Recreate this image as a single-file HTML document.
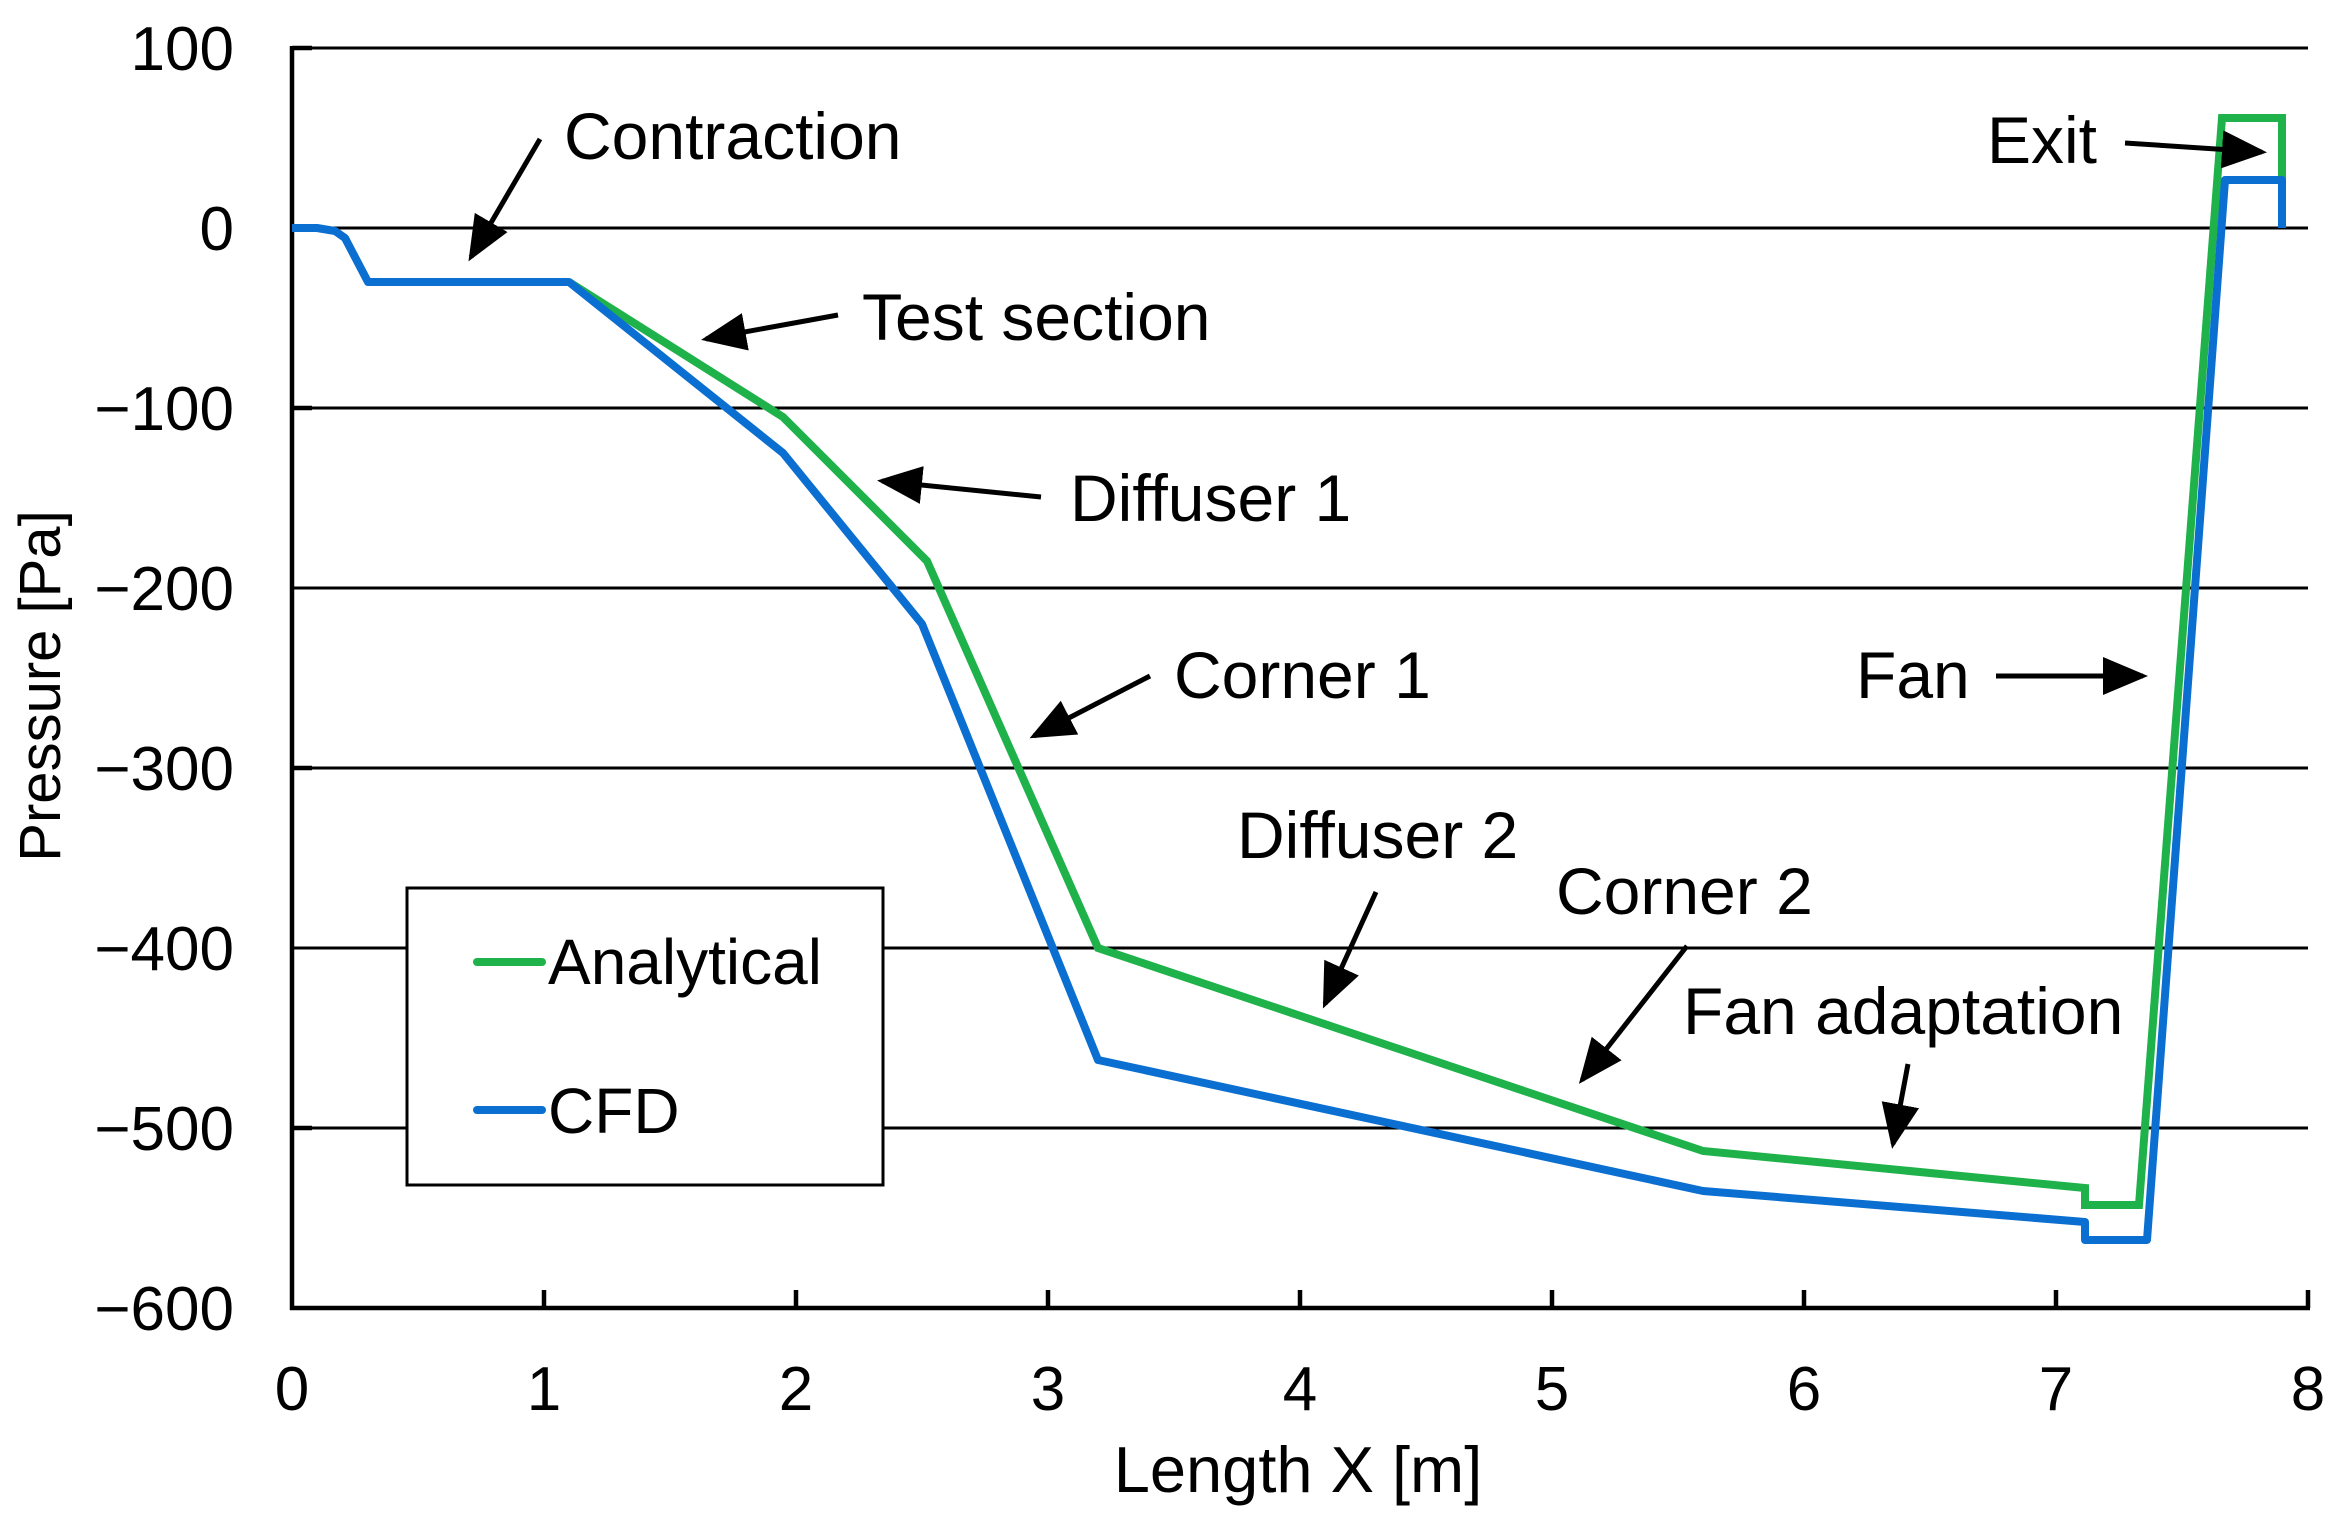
<!DOCTYPE html>
<html><head><meta charset="utf-8"><style>
html,body{margin:0;padding:0;background:#fff}
svg{display:block}
text{font-family:"Liberation Sans",Arial,sans-serif;fill:#000}
</style></head><body>
<svg width="2340" height="1528" viewBox="0 0 2340 1528" xmlns="http://www.w3.org/2000/svg">
<defs>
<marker id="ah" markerWidth="10" markerHeight="10" refX="8" refY="5" orient="auto" markerUnits="strokeWidth">
<path d="M0,1.2 L9,5 L0,8.8 Z" fill="#000"/>
</marker>
</defs>
<g stroke="#000" stroke-width="3">
<line x1="292" y1="48" x2="2308" y2="48"/>
<line x1="292" y1="228" x2="2308" y2="228"/>
<line x1="292" y1="408" x2="2308" y2="408"/>
<line x1="292" y1="588" x2="2308" y2="588"/>
<line x1="292" y1="768" x2="2308" y2="768"/>
<line x1="292" y1="948" x2="2308" y2="948"/>
<line x1="292" y1="1128" x2="2308" y2="1128"/>
</g>
<g stroke="#000" stroke-width="4.5" fill="none">
<line x1="292" y1="46" x2="292" y2="1310"/>
<line x1="290" y1="1308" x2="2310" y2="1308"/>
<line x1="292" y1="48" x2="312" y2="48"/>
<line x1="292" y1="408" x2="312" y2="408"/>
<line x1="292" y1="768" x2="312" y2="768"/>
<line x1="292" y1="1128" x2="312" y2="1128"/>
<line x1="544" y1="1308" x2="544" y2="1290"/>
<line x1="796" y1="1308" x2="796" y2="1290"/>
<line x1="1048" y1="1308" x2="1048" y2="1290"/>
<line x1="1300" y1="1308" x2="1300" y2="1290"/>
<line x1="1552" y1="1308" x2="1552" y2="1290"/>
<line x1="1804" y1="1308" x2="1804" y2="1290"/>
<line x1="2056" y1="1308" x2="2056" y2="1290"/>
<line x1="2308" y1="1308" x2="2308" y2="1290"/>
</g>
<g font-size="62" text-anchor="end">
<text x="234" y="70">100</text>
<text x="234" y="250">0</text>
<text x="234" y="430">−100</text>
<text x="234" y="610">−200</text>
<text x="234" y="790">−300</text>
<text x="234" y="970">−400</text>
<text x="234" y="1150">−500</text>
<text x="234" y="1330">−600</text>
</g>
<g font-size="62" text-anchor="middle">
<text x="292" y="1410">0</text>
<text x="544" y="1410">1</text>
<text x="796" y="1410">2</text>
<text x="1048" y="1410">3</text>
<text x="1300" y="1410">4</text>
<text x="1552" y="1410">5</text>
<text x="1804" y="1410">6</text>
<text x="2056" y="1410">7</text>
<text x="2308" y="1410">8</text>
<text x="1298" y="1492" font-size="65">Length X [m]</text>
<text x="0" y="0" font-size="58" transform="translate(60,686) rotate(-90)">Pressure [Pa]</text>
</g>
<polyline fill="none" stroke="#1fb24a" stroke-width="8" stroke-linejoin="miter" points="569,282 783,417 927,561 1098,948 1703,1151 2085,1188 2085,1205 2139,1205 2222,118 2282,118 2282,180"/>
<polyline fill="none" stroke="#0a6fd0" stroke-width="8" stroke-linejoin="round" points="292,228 317,228 335,231 345,238 368,282 569,282 783,453 922,624 1098,1060 1703,1191 2085,1222 2085,1240 2147,1240 2225,180 2282,180 2282,228"/>
<g font-size="66">
<text x="564" y="159">Contraction</text>
<text x="862" y="340">Test section</text>
<text x="1070" y="521">Diffuser 1</text>
<text x="1174" y="698">Corner 1</text>
<text x="1237" y="858">Diffuser 2</text>
<text x="1556" y="914">Corner 2</text>
<text x="1683" y="1034">Fan adaptation</text>
<text x="1987" y="163">Exit</text>
<text x="1856" y="698">Fan</text>
</g>
<g stroke="#000" stroke-width="5" marker-end="url(#ah)">
<line x1="540" y1="139" x2="471" y2="257"/>
<line x1="838" y1="315" x2="706" y2="339"/>
<line x1="1041" y1="497" x2="882" y2="481"/>
<line x1="1150" y1="676" x2="1034" y2="736"/>
<line x1="1376" y1="892" x2="1325" y2="1004"/>
<line x1="1687" y1="946" x2="1582" y2="1080"/>
<line x1="1908" y1="1064" x2="1893" y2="1144"/>
<line x1="2125" y1="143" x2="2262" y2="152"/>
<line x1="1996" y1="676" x2="2143" y2="676"/>
</g>
<rect x="407" y="888" width="476" height="297" fill="#fff" stroke="#000" stroke-width="3"/>
<line x1="477" y1="962" x2="542" y2="962" stroke="#1fb24a" stroke-width="8" stroke-linecap="round"/>
<line x1="477" y1="1110" x2="542" y2="1110" stroke="#0a6fd0" stroke-width="8" stroke-linecap="round"/>
<text x="548" y="984" font-size="64">Analytical</text>
<text x="548" y="1133" font-size="64">CFD</text>
</svg>
</body></html>
